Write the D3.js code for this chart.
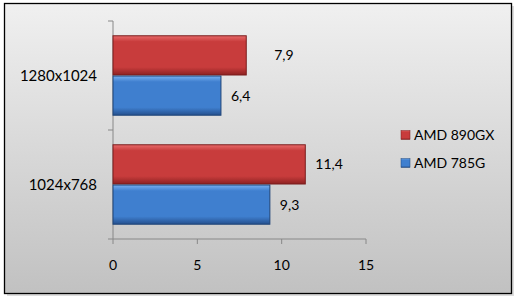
<!DOCTYPE html>
<html>
<head>
  <meta charset="utf-8">
  <style>
    body { margin: 0; background: #fff; }
    text { font-family: Lato, "Open Sans", sans-serif; fill: #000; }
  </style>
  <script src="https://d3js.org/d3.v7.min.js"></script>
</head>
<body>
  <svg width="518" height="300"></svg>
  <script>
    // data
    var categories = ["1280x1024", "1024x768"];
    var seriesNames = ["AMD 890GX", "AMD 785G"];
    var amd890 = [7.9, 11.4];
    var amd785 = [6.4, 9.3];
    var xTicks = [0, 5, 10, 15];

    var svg = d3.select("svg");
    var defs = svg.append("defs");

    var bg = defs.append("linearGradient").attr("id", "bg")
      .attr("x1", 0).attr("y1", 0).attr("x2", 0).attr("y2", 1);
    bg.append("stop").attr("offset", "0%").attr("stop-color", "#f0f0f0");
    bg.append("stop").attr("offset", "100%").attr("stop-color", "#c1c1c1");

    function barGrad(id, light, mid, dark) {
      var g = defs.append("linearGradient").attr("id", id)
        .attr("x1", 0).attr("y1", 0).attr("x2", 0).attr("y2", 1);
      g.append("stop").attr("offset", "0%").attr("stop-color", light);
      g.append("stop").attr("offset", "15%").attr("stop-color", mid);
      g.append("stop").attr("offset", "80%").attr("stop-color", mid);
      g.append("stop").attr("offset", "100%").attr("stop-color", dark);
    }
    barGrad("gRed", "#e86a6a", "#c83c3c", "#8e2222");
    barGrad("gBlue", "#78b0f0", "#3f7fcf", "#25508e");

    // shadow + frame
    svg.append("rect").attr("x", 7).attr("y", 6).attr("width", 507).attr("height", 290)
      .attr("fill", "#dcdcdc");
    svg.append("rect").attr("x", 4.5).attr("y", 3.5).attr("width", 507).attr("height", 290)
      .attr("fill", "url(#bg)").attr("stroke", "#000").attr("stroke-width", 1.3);

    var x = d3.scaleLinear().domain([0, 15]).range([113, 366]);
    var y = d3.scaleBand().domain(categories).range([21, 239]).paddingInner(0).paddingOuter(0);
    var inner = d3.scaleBand().domain(seriesNames).range([0, y.bandwidth()]).paddingOuter(0.355);

    // axes
    var g = svg.append("g");
    g.append("line").attr("x1", x(0)).attr("x2", x(0)).attr("y1", y.range()[0]).attr("y2", y.range()[1])
      .attr("stroke", "#888");
    g.append("line").attr("x1", x(0) - 5).attr("x2", x(15)).attr("y1", 239).attr("y2", 239)
      .attr("stroke", "#888");
    var yTickPos = [21, 21 + y.bandwidth()];
    yTickPos.forEach(function(p) {
      g.append("line").attr("x1", x(0) - 5).attr("x2", x(0)).attr("y1", p).attr("y2", p).attr("stroke", "#888");
    });
    xTicks.forEach(function(t) {
      g.append("line").attr("x1", x(t)).attr("x2", x(t)).attr("y1", 239).attr("y2", 244).attr("stroke", "#888");
      g.append("text").attr("x", x(t)).attr("y", 265).attr("dy", "0.35em")
        .attr("text-anchor", "middle").attr("font-size", 14).text(t);
    });
    categories.forEach(function(c) {
      g.append("text").attr("x", 97).attr("y", y(c) + y.bandwidth() / 2).attr("dy", "0.35em")
        .attr("text-anchor", "end").attr("font-size", 15).text(c);
    });

    // bars
    var series = [
      { name: seriesNames[0], values: amd890, fill: "url(#gRed)", stroke: "#7a1c1c" },
      { name: seriesNames[1], values: amd785, fill: "url(#gBlue)", stroke: "#1f4478" }
    ];
    var fmt = function(v) { return String(v).replace(".", ","); };
    series.forEach(function(s) {
      s.values.forEach(function(v, i) {
        var by = y(categories[i]) + inner(s.name);
        svg.append("rect").attr("x", x(0)).attr("y", by + 0.5)
          .attr("width", x(v) - x(0)).attr("height", inner.bandwidth() - 1)
          .attr("fill", s.fill).attr("stroke", s.stroke).attr("stroke-width", 1);
        // label (the 7,9 one sits further out in the original)
        var dx = (s.name === "AMD 890GX" && i === 0) ? 28 : 10;
        svg.append("text").attr("x", x(v) + dx).attr("y", by + inner.bandwidth() / 2)
          .attr("dy", "0.35em").attr("font-size", 14).text(fmt(v));
      });
    });

    // legend
    var legY = [135, 163];
    series.forEach(function(s, i) {
      svg.append("rect").attr("x", 401).attr("y", legY[i] - 4.5).attr("width", 9).attr("height", 9)
        .attr("fill", s.fill).attr("stroke", s.stroke).attr("stroke-width", 0.5);
      svg.append("text").attr("x", 414).attr("y", legY[i]).attr("dy", "0.35em")
        .attr("font-size", 14).text(s.name);
    });
  </script>
</body>
</html>
